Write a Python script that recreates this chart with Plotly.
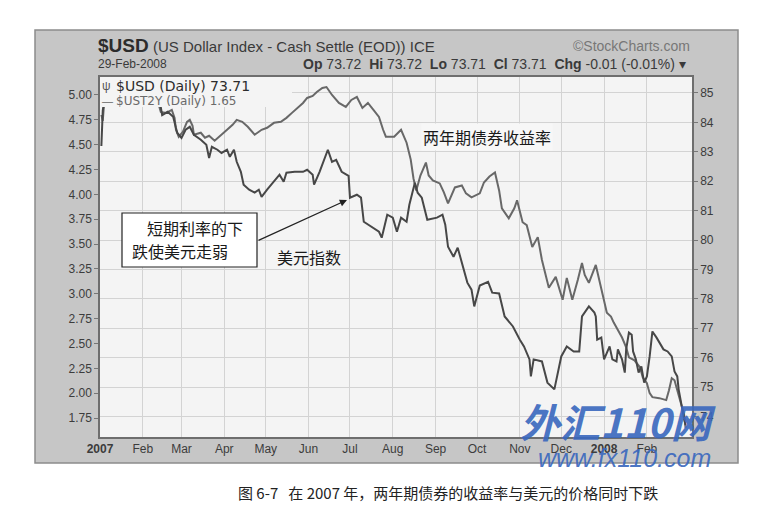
import plotly.graph_objects as go

# 2-year Treasury yield ($UST2Y, left axis)
ust2y_dates = [
    "2007-01-02", "2007-01-03", "2007-01-04", "2007-01-10", "2007-01-17", "2007-01-24",
    "2007-01-31", "2007-02-07", "2007-02-12", "2007-02-14", "2007-02-18", "2007-02-22",
    "2007-02-24", "2007-02-25", "2007-02-27", "2007-03-02", "2007-03-05", "2007-03-07",
    "2007-03-09", "2007-03-10", "2007-03-15", "2007-03-18", "2007-03-21", "2007-03-25",
    "2007-03-28", "2007-04-03", "2007-04-07", "2007-04-10", "2007-04-14", "2007-04-18",
    "2007-04-23", "2007-04-28", "2007-05-02", "2007-05-07", "2007-05-12", "2007-05-16",
    "2007-05-20", "2007-05-24", "2007-05-28", "2007-05-31", "2007-06-04", "2007-06-07",
    "2007-06-11", "2007-06-14", "2007-06-18", "2007-06-23", "2007-06-28", "2007-07-02",
    "2007-07-06", "2007-07-10", "2007-07-14", "2007-07-18", "2007-07-22", "2007-07-25",
    "2007-07-27", "2007-08-02", "2007-08-07", "2007-08-11", "2007-08-14", "2007-08-16",
    "2007-08-18", "2007-08-21", "2007-08-25", "2007-08-27", "2007-08-30", "2007-09-04",
    "2007-09-07", "2007-09-10", "2007-09-15", "2007-09-20", "2007-09-23", "2007-09-27",
    "2007-10-03", "2007-10-06", "2007-10-10", "2007-10-14", "2007-10-17", "2007-10-19",
    "2007-10-24", "2007-10-28", "2007-10-30", "2007-11-03", "2007-11-06", "2007-11-10",
    "2007-11-14", "2007-11-17", "2007-11-22", "2007-11-27", "2007-12-02", "2007-12-05",
    "2007-12-09", "2007-12-13", "2007-12-16", "2007-12-18", "2007-12-21", "2007-12-26",
    "2007-12-29", "2007-12-31", "2008-01-03", "2008-01-06", "2008-01-08", "2008-01-14",
    "2008-01-17", "2008-01-19", "2008-01-23", "2008-01-27", "2008-01-29", "2008-02-01",
    "2008-02-03", "2008-02-05", "2008-02-10", "2008-02-15", "2008-02-17", "2008-02-19",
    "2008-02-21", "2008-02-23", "2008-02-26", "2008-02-28", "2008-02-29",
]
ust2y_vals = [
    4.80, 4.74, 4.92, 4.95, 4.98, 4.97,
    4.95, 4.94, 4.93, 4.83, 4.82, 4.85,
    4.77, 4.65, 4.58, 4.63, 4.73, 4.75,
    4.69, 4.60, 4.62, 4.57, 4.59, 4.54,
    4.58, 4.65, 4.70, 4.75, 4.73, 4.68,
    4.60, 4.65, 4.67, 4.72, 4.73, 4.77,
    4.82, 4.87, 4.92, 4.97, 4.99, 5.03,
    5.07, 5.08, 5.00, 4.92, 4.88, 4.95,
    4.98, 4.87, 4.92, 4.85, 4.78, 4.65,
    4.58, 4.58, 4.65, 4.52, 4.35, 4.16,
    4.04, 4.19, 4.32, 4.19, 4.14, 4.11,
    4.02, 3.91, 4.07, 4.09, 4.01, 3.97,
    4.01, 4.12, 4.18, 4.22, 4.04, 3.86,
    3.76, 3.86, 3.94, 3.72, 3.69, 3.47,
    3.57, 3.34, 3.06, 3.17, 2.94, 3.16,
    2.94, 3.14, 3.31, 3.19, 3.11, 3.29,
    3.09, 2.99, 2.81, 2.77, 2.71, 2.56,
    2.46, 2.36, 2.33, 2.26, 2.16, 2.10,
    2.00, 1.96, 1.95, 1.93, 2.03, 2.15,
    2.13, 2.03, 1.90, 1.78, 1.65,
]

# US Dollar Index ($USD, right axis)
usd_dates = [
    "2007-01-02", "2007-01-03", "2007-01-05", "2007-01-11", "2007-01-18", "2007-01-25",
    "2007-02-01", "2007-02-08", "2007-02-13", "2007-02-15", "2007-02-19", "2007-02-23",
    "2007-02-25", "2007-02-26", "2007-03-01", "2007-03-04", "2007-03-07", "2007-03-10",
    "2007-03-15", "2007-03-19", "2007-03-21", "2007-03-23", "2007-03-27", "2007-03-30",
    "2007-04-03", "2007-04-05", "2007-04-08", "2007-04-10", "2007-04-13", "2007-04-15",
    "2007-04-19", "2007-04-23", "2007-04-26", "2007-04-28", "2007-05-02", "2007-05-07",
    "2007-05-11", "2007-05-14", "2007-05-16", "2007-05-22", "2007-05-28", "2007-05-31",
    "2007-06-04", "2007-06-05", "2007-06-09", "2007-06-15", "2007-06-18", "2007-06-21",
    "2007-06-25", "2007-06-30", "2007-07-01", "2007-07-06", "2007-07-09", "2007-07-11",
    "2007-07-17", "2007-07-22", "2007-07-24", "2007-07-28", "2007-08-01", "2007-08-04",
    "2007-08-07", "2007-08-11", "2007-08-13", "2007-08-17", "2007-08-19", "2007-08-22",
    "2007-08-26", "2007-09-02", "2007-09-06", "2007-09-08", "2007-09-10", "2007-09-14",
    "2007-09-17", "2007-09-20", "2007-09-24", "2007-09-27", "2007-09-29", "2007-10-03",
    "2007-10-09", "2007-10-12", "2007-10-17", "2007-10-21", "2007-10-27", "2007-11-01",
    "2007-11-04", "2007-11-08", "2007-11-09", "2007-11-11", "2007-11-17", "2007-11-21",
    "2007-11-26", "2007-12-01", "2007-12-05", "2007-12-10", "2007-12-14", "2007-12-16",
    "2007-12-21", "2007-12-25", "2007-12-26", "2007-12-27", "2007-12-30", "2008-01-01",
    "2008-01-05", "2008-01-07", "2008-01-10", "2008-01-11", "2008-01-14", "2008-01-16",
    "2008-01-17", "2008-01-19", "2008-01-21", "2008-01-22", "2008-01-24", "2008-01-26",
    "2008-01-28", "2008-01-30", "2008-02-01", "2008-02-03", "2008-02-05", "2008-02-08",
    "2008-02-10", "2008-02-13", "2008-02-16", "2008-02-19", "2008-02-21", "2008-02-23",
    "2008-02-24", "2008-02-26", "2008-02-28", "2008-02-29",
]
usd_vals = [
    83.20, 84.40, 85.00, 85.20, 85.30, 85.40,
    85.20, 85.00, 84.80, 84.25, 84.36, 84.19,
    83.81, 83.64, 83.47, 83.75, 83.85, 83.58,
    83.41, 83.24, 82.79, 83.17, 83.07, 82.96,
    83.07, 82.83, 83.07, 82.66, 82.32, 81.88,
    81.71, 81.61, 81.71, 81.47, 81.71, 81.98,
    82.22, 81.98, 82.29, 82.32, 82.32, 82.39,
    82.22, 81.88, 82.32, 83.07, 82.66, 82.73,
    82.32, 82.18, 81.44, 81.54, 81.44, 80.62,
    80.45, 80.28, 80.08, 80.86, 80.76, 80.28,
    80.76, 80.62, 81.20, 81.95, 81.61, 81.44,
    80.69, 80.76, 80.86, 80.52, 79.77, 79.43,
    79.74, 79.23, 78.55, 78.31, 77.74, 78.45,
    78.58, 78.21, 78.18, 77.40, 77.06, 76.61,
    76.38, 75.94, 75.36, 75.94, 75.87, 75.15,
    74.92, 76.04, 76.38, 76.21, 76.21, 77.40,
    77.74, 77.53, 77.40, 76.61, 76.68, 75.94,
    76.38, 75.94, 75.87, 76.28, 75.94, 75.49,
    76.28, 76.85, 76.78, 76.21, 75.94, 75.49,
    75.70, 75.15, 75.36, 76.04, 76.89, 76.68,
    76.51, 76.28, 76.21, 76.04, 75.53, 75.36,
    74.92, 74.34, 73.90, 73.71,
]

month_ticks = ["2007-01-01", "2007-02-01", "2007-03-01", "2007-04-01", "2007-05-01",
               "2007-06-01", "2007-07-01", "2007-08-01", "2007-09-01", "2007-10-01",
               "2007-11-01", "2007-12-01", "2008-01-01", "2008-02-01"]
month_labels = ["<b>2007</b>", "Feb", "Mar", "Apr", "May", "Jun", "Jul", "Aug",
                "Sep", "Oct", "Nov", "Dec", "<b>2008</b>", "Feb"]
left_ticks = [1.75, 2.00, 2.25, 2.50, 2.75, 3.00, 3.25, 3.50, 3.75, 4.00, 4.25, 4.50, 4.75, 5.00]
right_ticks = [74, 75, 76, 77, 78, 79, 80, 81, 82, 83, 84, 85]

# page pixels of the plot box; the browser adds an 8px body margin
OFF = 8
W, H = 775 - OFF, 520 - OFF
L, R, T, B = 100, 692, 77, 437


def px(x):
    return (x - L) / (R - L)


def py(y):
    return (B - y) / (B - T)


fig = go.Figure()
fig.add_trace(go.Scatter(x=ust2y_dates, y=ust2y_vals, mode="lines",
                         line=dict(color="#686868", width=2), yaxis="y",
                         showlegend=False))
fig.add_trace(go.Scatter(x=usd_dates, y=usd_vals, mode="lines",
                         line=dict(color="#474747", width=2), yaxis="y2",
                         showlegend=False))

shapes = [
    # grey StockCharts frame and the light plot area
    dict(type="rect", xref="paper", yref="paper", x0=px(35), x1=px(738), y0=py(463), y1=py(30),
         fillcolor="#c6c6c6", line=dict(color="#8c8c8c", width=1.5), layer="below"),
    dict(type="rect", xref="paper", yref="paper", x0=0, x1=1, y0=0, y1=1,
         fillcolor="#f4f4f4", line=dict(width=0), layer="below"),
    # legend box covering the lines
    dict(type="rect", xref="paper", yref="paper", x0=px(100), x1=px(292), y0=py(107), y1=py(77),
         fillcolor="#f4f4f4", line=dict(width=0), layer="above"),
    # callout box
    dict(type="rect", xref="paper", yref="paper", x0=px(122), x1=px(257), y0=py(267), y1=py(213),
         fillcolor="white", line=dict(color="#222", width=1.2), layer="above"),
]

cjk = "Noto Sans CJK SC"
anns = []


def note(x, y, s, size, color="#333", family="Liberation Sans", xanchor="left", **kw):
    anns.append(dict(x=px(x), y=py(y), xref="paper", yref="paper", text=s, showarrow=False,
                     xanchor=xanchor, yanchor="middle",
                     font=dict(family=family, size=size, color=color), **kw))


note(96, 45, "<b>$USD</b>", 19, "#2c2c2c")
note(151, 46, "(US Dollar Index - Cash Settle (EOD)) ICE", 15, "#3a3a3a")
note(692, 46, "©StockCharts.com", 14, "#777", xanchor="right")
note(96, 64, "29-Feb-2008", 12, "#3a3a3a")
note(688, 64, "<b>Op</b> 73.72\u00a0 <b>Hi</b> 73.72\u00a0 <b>Lo</b> 73.71\u00a0 "
              "<b>Cl</b> 73.71\u00a0 <b>Chg</b> -0.01 (-0.01%) ▾", 14, "#3a3a3a", xanchor="right")

note(100, 86, "ψ", 12, "#555")
note(114, 86, "$USD (Daily) 73.71", 14, "#2c2c2c", family="DejaVu Sans")
note(100, 101, "—", 11, "#666")
note(114, 101, "$UST2Y (Daily) 1.65", 12, "#6a6a6a", family="DejaVu Sans")

note(421, 137, "两年期债券收益率", 16, "#1a1a1a", family=cjk, bgcolor="#f7f7f7")
note(145, 228, "短期利率的下", 16, "#1a1a1a", family=cjk)
note(130, 251, "跌使美元走弱", 16, "#1a1a1a", family=cjk)
note(275, 257, "美元指数", 16, "#1a1a1a", family=cjk)
anns.append(dict(x=px(347), y=py(200), xref="paper", yref="paper", text="",
                 showarrow=True, ax=257 - 347, ay=241 - 200, arrowhead=2, arrowsize=1.1,
                 arrowwidth=1.3, arrowcolor="#222"))

note(448, 493, "图 6-7\u00a0\u00a0 在 2007 年，两年期债券的收益率与美元的价格同时下跌", 15, "#222",
     family=cjk, xanchor="center")

# fx110 watermark stamped on the scan
note(618, 421, "<b><i>外汇110网</i></b>", 40, "rgba(58,104,190,0.92)", family=cjk, xanchor="center")
note(624, 458, "<i>www.fx110.com</i>", 25, "rgba(58,104,190,0.92)", xanchor="center")

tickfont = dict(family="Liberation Sans", size=12, color="#3c3c3c")
fig.update_layout(
    width=W, height=H,
    margin=dict(l=L - OFF, r=W - (R - OFF), t=T - OFF, b=H - (B - OFF)),
    paper_bgcolor="white", plot_bgcolor="#f4f4f4",
    shapes=shapes, annotations=anns,
    xaxis=dict(type="date", range=["2007-01-01", "2008-03-04 16:00"],
               tickvals=month_ticks, ticktext=month_labels, tickfont=tickfont,
               showgrid=True, gridcolor="#d3d3d3", gridwidth=1,
               showline=True, linecolor="#6e6e6e", linewidth=1.5, mirror=True,
               ticks="", zeroline=False),
    yaxis=dict(range=[1.559, 5.181], tickvals=left_ticks,
               ticktext=[f"{v:.2f}" for v in left_ticks], tickfont=tickfont,
               showgrid=False, zeroline=False, ticks="outside", ticklen=4, tickcolor="#777",
               showline=True, linecolor="#6e6e6e", linewidth=1.5),
    yaxis2=dict(range=[73.30, 85.544], tickvals=right_ticks, overlaying="y", side="right",
                tickfont=tickfont, showgrid=True, gridcolor="#d3d3d3", zeroline=False,
                ticks="outside", ticklen=4, tickcolor="#777",
                showline=True, linecolor="#6e6e6e", linewidth=1.5),
)

fig.write_html("out.html")
